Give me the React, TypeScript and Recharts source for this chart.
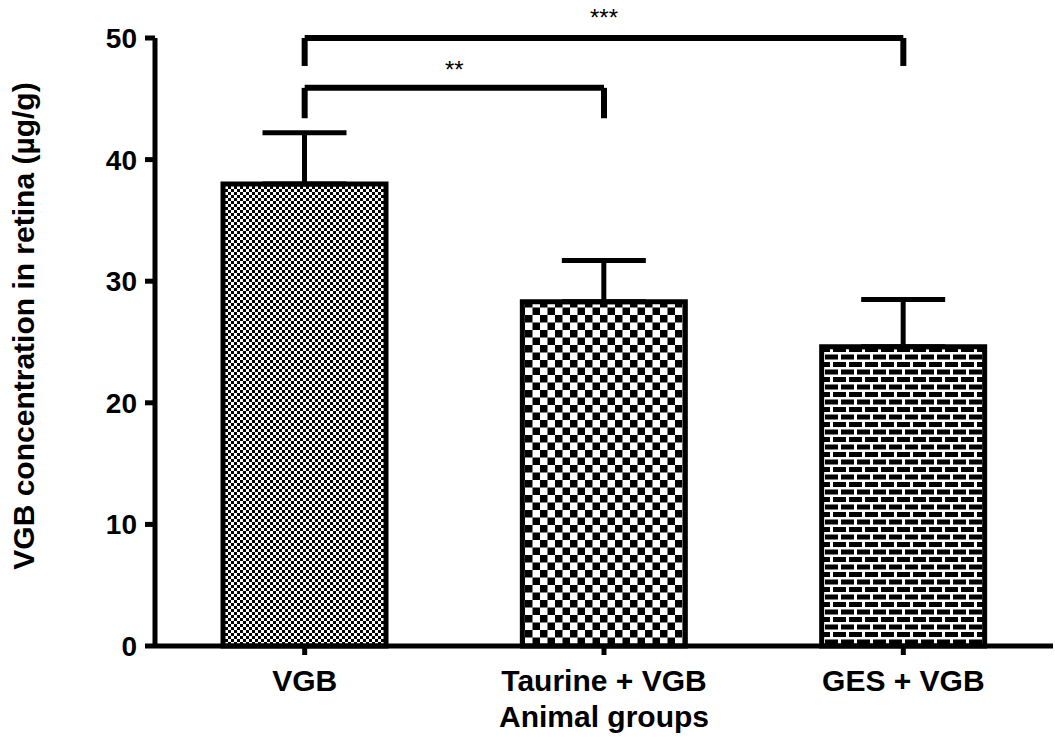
import { BarChart, Bar, XAxis, YAxis, Cell, ErrorBar, ReferenceLine, Label } from 'recharts';

const groups = ['VGB', 'Taurine + VGB', 'GES + VGB'];
const means = [38, 28.3, 24.6];
const sem = [4.2, 3.4, 3.9];
const fills = ['url(#fineCheck)', 'url(#coarseCheck)', 'url(#brick)'];
const yTicks = [0, 10, 20, 30, 40, 50];

const chartData = groups.map((g, i) => ({ group: g, mean: means[i], err: [0, sem[i]] }));

const font = '"Liberation Sans", Arial, sans-serif';
const ink = '#000';

// rotated y-axis title, nudged a little above the plot's middle
const YTitle = ({ viewBox }: any) => {
  const x = viewBox.x + 23;
  const y = viewBox.y + viewBox.height / 2 - 16;
  return (
    <text
      x={x}
      y={y}
      transform={`rotate(-90, ${x}, ${y})`}
      textAnchor="middle"
      dominantBaseline="central"
      fill={ink}
      fontSize={30}
      fontWeight={700}
      fontFamily={font}
    >
      VGB concentration in retina (µg/g)
    </text>
  );
};

export default function App() {
  return (
    <div style={{ position: 'absolute', left: 0, top: 0, background: '#fff' }}>
      <BarChart
        width={1055}
        height={737}
        data={chartData}
        margin={{ top: 38, right: 2, bottom: 0, left: 0 }}
        barCategoryGap={0}
      >
        <defs>
          <pattern id="fineCheck" patternUnits="userSpaceOnUse" width={6} height={6}>
            <rect width={6} height={6} fill="#fff" />
            <rect x={0} y={0} width={3} height={3} fill={ink} />
            <rect x={3} y={3} width={3} height={3} fill={ink} />
          </pattern>
          <pattern id="coarseCheck" patternUnits="userSpaceOnUse" width={15} height={15}>
            <rect width={15} height={15} fill="#fff" />
            <rect x={0} y={0} width={7.5} height={7.5} fill={ink} />
            <rect x={7.5} y={7.5} width={7.5} height={7.5} fill={ink} />
          </pattern>
          <pattern id="brick" patternUnits="userSpaceOnUse" width={16} height={15}>
            <rect width={16} height={15} fill="#fff" />
            <rect x={1} y={2} width={13} height={5} fill={ink} />
            <rect x={9} y={9.5} width={13} height={5} fill={ink} />
            <rect x={-7} y={9.5} width={13} height={5} fill={ink} />
          </pattern>
        </defs>
        <XAxis
          dataKey="group"
          height={91}
          axisLine={{ stroke: ink, strokeWidth: 5 }}
          tickLine={{ stroke: ink, strokeWidth: 5 }}
          tickSize={9}
          tickMargin={15}
          tick={{ fill: ink, fontSize: 30, fontWeight: 700, fontFamily: font }}
        >
          <Label value="Animal groups" position="insideBottom" offset={10} fill={ink} fontSize={30} fontWeight={700} fontFamily={font} />
        </XAxis>
        <YAxis
          width={155}
          domain={[0, 50]}
          ticks={yTicks}
          interval={0}
          axisLine={{ stroke: ink, strokeWidth: 5 }}
          tickLine={{ stroke: ink, strokeWidth: 5 }}
          tickSize={10}
          tickMargin={8}
          tick={{ fill: ink, fontSize: 28, fontWeight: 700, fontFamily: font }}
        >
          <Label content={YTitle} />
        </YAxis>
        <Bar dataKey="mean" barSize={163} stroke={ink} strokeWidth={5} isAnimationActive={false}>
          {chartData.map((d, i) => (
            <Cell key={d.group} fill={fills[i]} />
          ))}
          <ErrorBar dataKey="err" width={42} stroke={ink} strokeWidth={5} />
        </Bar>
        {/* significance brackets */}
        <ReferenceLine
          segment={[{ x: 'VGB', y: 50 }, { x: 'GES + VGB', y: 50 }]}
          stroke={ink}
          strokeWidth={6}
          ifOverflow="visible"
        >
          <Label value="***" position="top" offset={12} fill={ink} fontSize={24} fontFamily={font} />
        </ReferenceLine>
        <ReferenceLine segment={[{ x: 'VGB', y: 50 }, { x: 'VGB', y: 47.7 }]} stroke={ink} strokeWidth={6} ifOverflow="visible" />
        <ReferenceLine segment={[{ x: 'GES + VGB', y: 50 }, { x: 'GES + VGB', y: 47.7 }]} stroke={ink} strokeWidth={6} ifOverflow="visible" />
        <ReferenceLine
          segment={[{ x: 'VGB', y: 45.9 }, { x: 'Taurine + VGB', y: 45.9 }]}
          stroke={ink}
          strokeWidth={6}
          ifOverflow="visible"
        >
          <Label value="**" position="top" offset={10} fill={ink} fontSize={24} fontFamily={font} />
        </ReferenceLine>
        <ReferenceLine segment={[{ x: 'VGB', y: 45.9 }, { x: 'VGB', y: 43.4 }]} stroke={ink} strokeWidth={6} ifOverflow="visible" />
        <ReferenceLine segment={[{ x: 'Taurine + VGB', y: 45.9 }, { x: 'Taurine + VGB', y: 43.4 }]} stroke={ink} strokeWidth={6} ifOverflow="visible" />
      </BarChart>
    </div>
  );
}
